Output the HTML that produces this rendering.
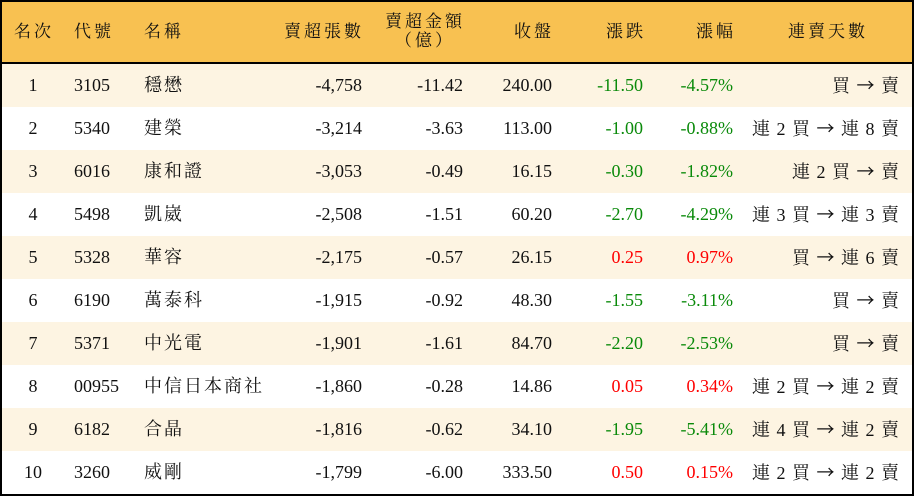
<!DOCTYPE html>
<html><head><meta charset="utf-8"><style>
body{margin:0;width:914px;height:496px;overflow:hidden;background:#fff;font-family:"Liberation Serif","Noto Serif CJK SC","Noto Sans CJK TC",serif;}
.t{position:absolute;left:0;top:0;width:910px;height:492px;border:2px solid #000;overflow:hidden;}
.h{position:absolute;left:0;top:0;width:910px;height:60px;background:#f8c151;border-bottom:2px solid #000;}
.r{position:absolute;left:0;width:910px;height:43px;}
.c{position:absolute;top:0;line-height:43px;font-size:18px;color:#111;white-space:nowrap;}
.h .c{line-height:60px;letter-spacing:3px;font-size:17px;}
.g{color:#0a8a0a}.d{color:#f00}
.rt{text-align:right}
.a{font-family:"Noto Sans CJK SC",sans-serif;font-size:18px}
</style></head><body><div class="t">
<div class="h">
<div class="c" style="left:12px">名次</div>
<div class="c" style="left:72px">代號</div>
<div class="c" style="left:142px">名稱</div>
<div class="c rt" style="right:548px">賣超張數</div>
<div class="c" style="left:383px;line-height:19px;top:10px;text-align:center">賣超金額<br>（億）</div>
<div class="c rt" style="right:358px">收盤</div>
<div class="c rt" style="right:266px">漲跌</div>
<div class="c rt" style="right:176px">漲幅</div>
<div class="c" style="left:786px">連賣天數</div>
</div>
<div id="rows"></div>
</div>
<script>
var d=[["1","3105","穩懋","-4,758","-11.42","240.00","-11.50","-4.57%","買 → 賣"],
["2","5340","建榮","-3,214","-3.63","113.00","-1.00","-0.88%","連 2 買 → 連 8 賣"],
["3","6016","康和證","-3,053","-0.49","16.15","-0.30","-1.82%","連 2 買 → 賣"],
["4","5498","凱崴","-2,508","-1.51","60.20","-2.70","-4.29%","連 3 買 → 連 3 賣"],
["5","5328","華容","-2,175","-0.57","26.15","0.25","0.97%","買 → 連 6 賣"],
["6","6190","萬泰科","-1,915","-0.92","48.30","-1.55","-3.11%","買 → 賣"],
["7","5371","中光電","-1,901","-1.61","84.70","-2.20","-2.53%","買 → 賣"],
["8","00955","中信日本商社","-1,860","-0.28","14.86","0.05","0.34%","連 2 買 → 連 2 賣"],
["9","6182","合晶","-1,816","-0.62","34.10","-1.95","-5.41%","連 4 買 → 連 2 賣"],
["10","3260","威剛","-1,799","-6.00","333.50","0.50","0.15%","連 2 買 → 連 2 賣"]];
var h="";
d.forEach(function(r,i){var cl=r[6][0]=="-"?"g":"d";
h+='<div class="r" style="top:'+(62+i*43)+'px;background:'+(i%2==0?'#fdf4e2':'#fff')+'">'+
'<div class="c" style="left:0;width:62px;text-align:center">'+r[0]+'</div>'+
'<div class="c" style="left:72px">'+r[1]+'</div>'+
'<div class="c" style="left:142px;letter-spacing:2px">'+r[2]+'</div>'+
'<div class="c rt" style="right:550px">'+r[3]+'</div>'+
'<div class="c rt" style="right:449px">'+r[4]+'</div>'+
'<div class="c rt" style="right:360px">'+r[5]+'</div>'+
'<div class="c rt '+cl+'" style="right:269px">'+r[6]+'</div>'+
'<div class="c rt '+cl+'" style="right:179px">'+r[7]+'</div>'+
'<div class="c rt" style="right:12px;letter-spacing:1px">'+r[8].replace("→",'<span class="a">→</span>')+'</div></div>';});
document.getElementById("rows").innerHTML=h;
</script>
</body></html>
